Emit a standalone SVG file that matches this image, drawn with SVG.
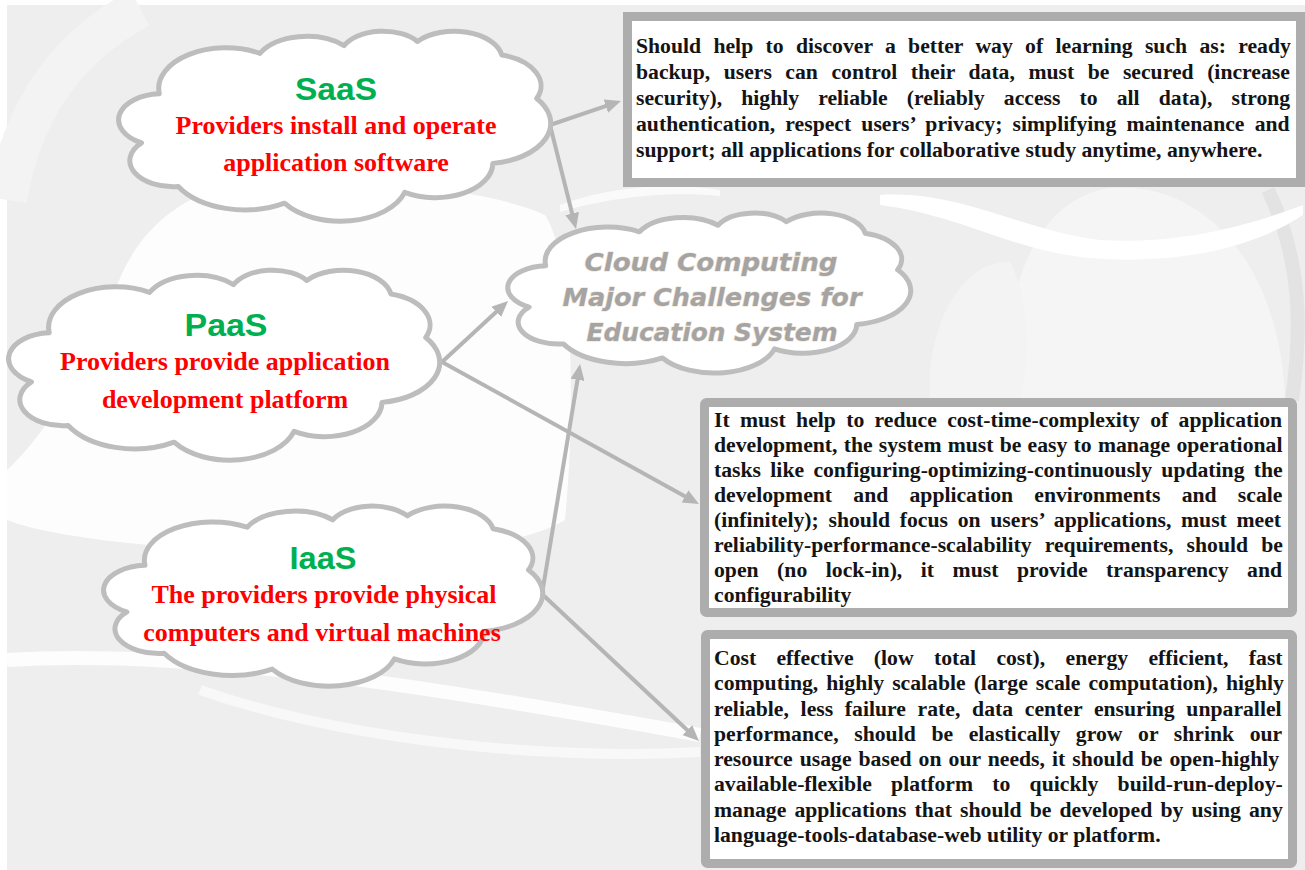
<svg xmlns="http://www.w3.org/2000/svg" width="1305" height="870" viewBox="0 0 1305 870">
  <defs>
    <style>
      .cloud { fill: #ffffff; stroke: #bdbdbd; stroke-width: 5; stroke-linejoin: round; }
      .svc { font-family: "Liberation Sans", Arial, sans-serif; font-weight: bold; fill: #00b050; font-size: 31px; text-anchor: middle; }
      .desc { font-family: "Liberation Serif", "Times New Roman", serif; font-weight: bold; fill: #ff0000; font-size: 26px; text-anchor: middle; }
      .title { font-family: "DejaVu Sans", Verdana, sans-serif; font-weight: bold; font-style: italic; fill: #a4a4a4; font-size: 24px; text-anchor: middle; stroke: #efe2cf; stroke-width: 1.2; paint-order: stroke; }
      .frame { fill: #ffffff; stroke: #adadad; stroke-width: 9; }
      .body { font-family: "Liberation Serif", "Times New Roman", serif; font-weight: bold; fill: #141414; font-size: 21.7px; }
      .conn { stroke: #b5b5b5; stroke-width: 4; fill: none; marker-end: url(#ah); }
      .swoosh { fill: #ffffff; }
    </style>
    <marker id="ah" viewBox="0 0 16 14" refX="6" refY="7" markerWidth="16" markerHeight="14" markerUnits="userSpaceOnUse" orient="auto">
      <path d="M0,0 L16,7 L0,14 Z" fill="#b5b5b5"/>
    </marker>
  </defs>

  <!-- backdrop: pale grey page with soft white brush strokes -->
  <g id="backdrop">
    <rect x="0" y="0" width="1305" height="870" fill="#ffffff"/>
    <rect x="7" y="5" width="1298" height="865" fill="#eeeeee"/>
    <path d="M7 200 C 20 120, 60 50, 140 8" fill="none" stroke="#f3f3f3" stroke-width="40"/>
    <path class="swoosh" opacity="0.85" d="M112 300 C 130 240, 170 200, 230 185 C 330 175, 480 185, 545 215 C 575 260, 575 420, 565 520 C 500 560, 300 560, 150 545 C 90 540, 30 530, 7 520 L 7 470 C 40 440, 80 380, 112 300 Z"/>
    <path d="M7 660 C 200 648, 450 690, 700 735" fill="none" stroke="#ffffff" stroke-width="14" opacity="0.85"/>
    <path d="M200 690 C 350 742, 550 760, 700 752" fill="none" stroke="#ffffff" stroke-width="10" opacity="0.6"/>
    <path d="M1010 400 C 1000 300, 1030 200, 1110 188 C 1200 180, 1280 260, 1285 400 Z" fill="#f5f5f5"/>
    <path d="M930 400 C 925 330, 960 260, 1010 262 C 1030 300, 1030 360, 1020 400 Z" fill="#f3f3f3"/>
    <path d="M1268 190 C 1302 260, 1302 330, 1292 400" fill="none" stroke="#e3e3e3" stroke-width="14"/>
    <path class="swoosh" d="M880 195 C 960 190, 1020 230, 1100 240 C 1180 245, 1250 225, 1303 205 L 1303 215 C 1250 250, 1170 265, 1090 258 C 1010 250, 960 215, 880 205 Z"/>
    <path class="swoosh" opacity="0.7" d="M560 205 C 600 190, 660 180, 720 190 L 720 196 C 660 190, 600 200, 560 212 Z"/>
  </g>

  <!-- connectors -->
  <g id="connectors">
    <path class="conn" d="M550 125 L611.5 104.2"/>
    <path class="conn" d="M550 125 L573.6 219.3"/>
    <path class="conn" d="M442 362 L500.7 307.8"/>
    <path class="conn" d="M442 362 L690.2 499.2"/>
    <path class="conn" d="M542 594 L578.5 373.9"/>
    <path class="conn" d="M542 594 L691.7 734.2"/>
  </g>

  <!-- SaaS -->
  <g id="saas">
    <path class="cloud" vector-effect="non-scaling-stroke" transform="translate(120.5,30.5) scale(4.30,1.90)" d="M9.03 33.26 A15.63 21.27 0 0 1 32.42 12.04 A12.34 16.82 0 0 1 51.99 7.95 A10.10 13.76 0 0 1 69.06 5.75 A11.24 15.27 0 0 1 88.70 12.92 A12.34 16.84 0 0 1 96.80 35.80 A15.68 21.34 0 0 1 86.59 69.93 A13.39 18.21 0 0 1 66.10 85.23 A15.63 21.33 0 0 1 38.15 90.90 A17.87 24.41 0 0 1 13.43 82.11 A10.09 13.70 0 0 1 4.89 59.14 A10.06 13.76 0 0 1 9.03 33.26 Z"/>
    <text class="svc" x="336" y="100" textLength="82" lengthAdjust="spacingAndGlyphs">SaaS</text>
    <text class="desc" x="336" y="134">Providers install and operate</text>
    <text class="desc" x="336" y="171">application software</text>
  </g>

  <!-- PaaS -->
  <g id="paas">
    <path class="cloud" vector-effect="non-scaling-stroke" transform="translate(10.5,269.5) scale(4.29,1.90)" d="M9.03 33.26 A15.63 21.27 0 0 1 32.42 12.04 A12.34 16.82 0 0 1 51.99 7.95 A10.10 13.76 0 0 1 69.06 5.75 A11.24 15.27 0 0 1 88.70 12.92 A12.34 16.84 0 0 1 96.80 35.80 A15.68 21.34 0 0 1 86.59 69.93 A13.39 18.21 0 0 1 66.10 85.23 A15.63 21.33 0 0 1 38.15 90.90 A17.87 24.41 0 0 1 13.43 82.11 A10.09 13.70 0 0 1 4.89 59.14 A10.06 13.76 0 0 1 9.03 33.26 Z"/>
    <text class="svc" x="226" y="336" textLength="83" lengthAdjust="spacingAndGlyphs">PaaS</text>
    <text class="desc" x="225" y="370">Providers provide application</text>
    <text class="desc" x="225" y="408">development platform</text>
  </g>

  <!-- IaaS -->
  <g id="iaas">
    <path class="cloud" vector-effect="non-scaling-stroke" transform="translate(105.5,505.5) scale(4.37,1.80)" d="M9.03 33.26 A15.63 21.27 0 0 1 32.42 12.04 A12.34 16.82 0 0 1 51.99 7.95 A10.10 13.76 0 0 1 69.06 5.75 A11.24 15.27 0 0 1 88.70 12.92 A12.34 16.84 0 0 1 96.80 35.80 A15.68 21.34 0 0 1 86.59 69.93 A13.39 18.21 0 0 1 66.10 85.23 A15.63 21.33 0 0 1 38.15 90.90 A17.87 24.41 0 0 1 13.43 82.11 A10.09 13.70 0 0 1 4.89 59.14 A10.06 13.76 0 0 1 9.03 33.26 Z"/>
    <text class="svc" x="323" y="569" textLength="67" lengthAdjust="spacingAndGlyphs">IaaS</text>
    <text class="desc" x="324" y="603">The providers provide physical</text>
    <text class="desc" x="322" y="641">computers and virtual machines</text>
  </g>

  <!-- central challenge cloud -->
  <g id="challenges">
    <path class="cloud" vector-effect="non-scaling-stroke" transform="translate(509.5,212.5) scale(4.01,1.60)" d="M9.03 33.26 A15.63 21.27 0 0 1 32.42 12.04 A12.34 16.82 0 0 1 51.99 7.95 A10.10 13.76 0 0 1 69.06 5.75 A11.24 15.27 0 0 1 88.70 12.92 A12.34 16.84 0 0 1 96.80 35.80 A15.68 21.34 0 0 1 86.59 69.93 A13.39 18.21 0 0 1 66.10 85.23 A15.63 21.33 0 0 1 38.15 90.90 A17.87 24.41 0 0 1 13.43 82.11 A10.09 13.70 0 0 1 4.89 59.14 A10.06 13.76 0 0 1 9.03 33.26 Z"/>
    <text class="title" x="711" y="271" textLength="253" lengthAdjust="spacingAndGlyphs">Cloud Computing</text>
    <text class="title" x="712" y="306" textLength="299" lengthAdjust="spacingAndGlyphs">Major Challenges for</text>
    <text class="title" x="712" y="341" textLength="251" lengthAdjust="spacingAndGlyphs">Education System</text>
  </g>

  <!-- SaaS requirements box -->
  <g id="box-saas">
    <rect class="frame" x="627.5" y="16.5" width="673" height="166"/>
    <text class="body" x="636" y="53" word-spacing="6.9">Should help to discover a better way of learning such as: ready</text>
    <text class="body" x="636" y="79" word-spacing="8.1">backup, users can control their data, must be secured (increase</text>
    <text class="body" x="636" y="105" word-spacing="13.7">security), highly reliable (reliably access to all data), strong</text>
    <text class="body" x="636" y="131" word-spacing="4.75">authentication, respect users’ privacy; simplifying maintenance and</text>
    <text class="body" x="636" y="157">support; all applications for collaborative study anytime, anywhere.</text>
  </g>

  <!-- PaaS requirements box -->
  <g id="box-paas">
    <rect class="frame" x="704.5" y="402.5" width="588" height="210" rx="2"/>
    <text class="body" x="714" y="427" word-spacing="4.9">It must help to reduce cost-time-complexity of application</text>
    <text class="body" x="714" y="452" word-spacing="0.8">development, the system must be easy to manage operational</text>
    <text class="body" x="714" y="477" word-spacing="3.9">tasks like configuring-optimizing-continuously updating the</text>
    <text class="body" x="714" y="502" word-spacing="15.8">development and application environments and scale</text>
    <text class="body" x="714" y="527" word-spacing="4.3">(infinitely); should focus on users’ applications, must meet</text>
    <text class="body" x="714" y="552" word-spacing="7.7">reliability-performance-scalability requirements, should be</text>
    <text class="body" x="714" y="577" word-spacing="13.1">open (no lock-in), it must provide transparency and</text>
    <text class="body" x="714" y="602">configurability</text>
  </g>

  <!-- IaaS requirements box -->
  <g id="box-iaas">
    <rect class="frame" x="705.5" y="634.5" width="587" height="229" rx="2"/>
    <text class="body" x="714" y="665" word-spacing="14.9">Cost effective (low total cost), energy efficient, fast</text>
    <text class="body" x="714" y="690.3" word-spacing="2.6">computing, highly scalable (large scale computation), highly</text>
    <text class="body" x="714" y="715.6" word-spacing="6.3">reliable, less failure rate, data center ensuring unparallel</text>
    <text class="body" x="714" y="740.9" word-spacing="10.2">performance, should be elastically grow or shrink our</text>
    <text class="body" x="714" y="766.1" word-spacing="1.6">resource usage based on our needs, it should be open-highly</text>
    <text class="body" x="714" y="791.4" word-spacing="13.85">available-flexible platform to quickly build-run-deploy-</text>
    <text class="body" x="714" y="816.7" word-spacing="2.7">manage applications that should be developed by using any</text>
    <text class="body" x="714" y="842">language-tools-database-web utility or platform.</text>
  </g>
</svg>
